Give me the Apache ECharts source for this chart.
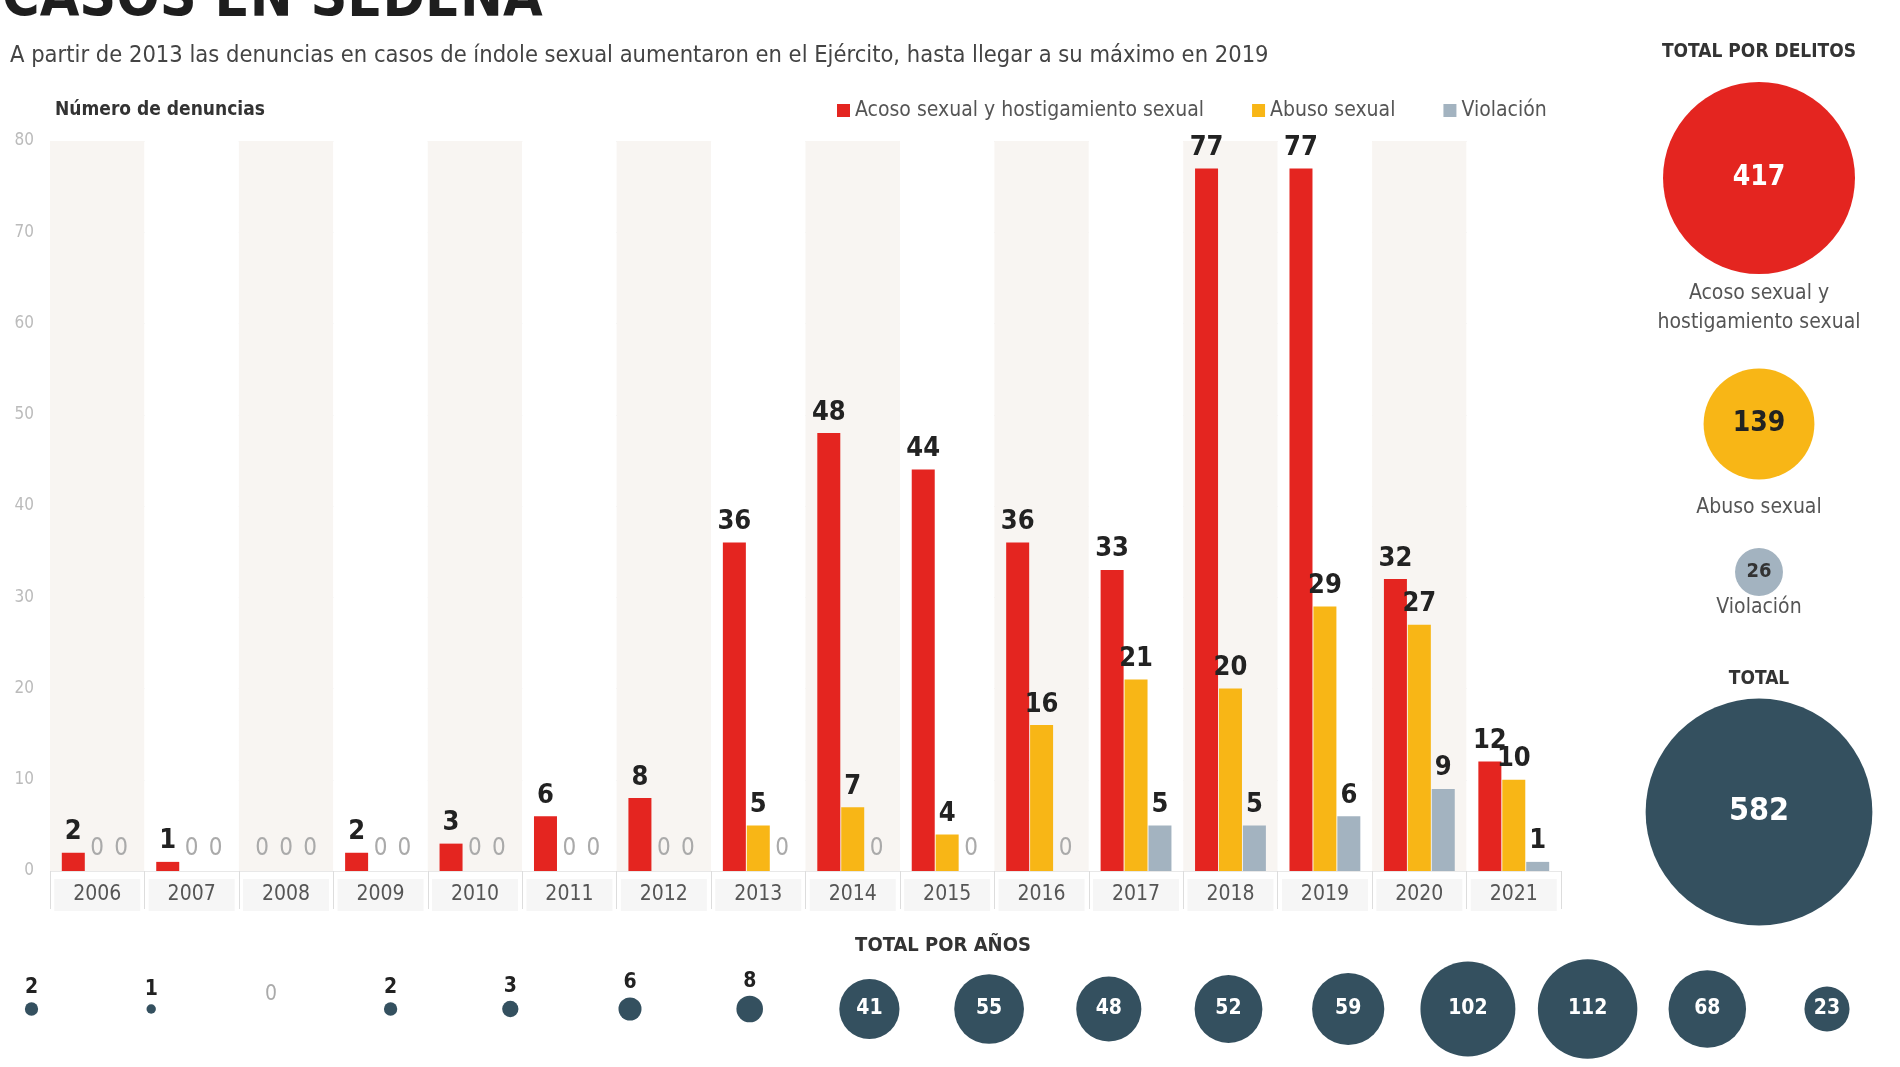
<!DOCTYPE html>
<html>
<head>
<meta charset="utf-8">
<script src="https://cdn.jsdelivr.net/npm/echarts@6/dist/echarts.min.js"></script>
<style>html,body{margin:0;padding:0;background:#fff;}#c{width:1900px;height:1067px;}</style>
</head>
<body>
<div id="c"></div>
<script>
const years = ['2006','2007','2008','2009','2010','2011','2012','2013','2014','2015','2016','2017','2018','2019','2020','2021'];
const acoso = [2,1,0,2,3,6,8,36,48,44,36,33,77,77,32,12];
const abuso = [0,0,0,0,0,0,0,5,7,4,16,21,20,29,27,10];
const violacion = [0,0,0,0,0,0,0,0,0,0,0,5,5,6,9,1];
const totalPorAnos = [2,1,0,2,3,6,8,41,55,48,52,59,102,112,68,23];
const delitosNombres = ['Acoso sexual y\nhostigamiento sexual','Abuso sexual','Violación'];
const totalPorDelitos = [417,139,26];
const totalGeneral = 582;

const FONT = '"Liberation Sans Narrow","DejaVu Sans Condensed","Roboto",sans-serif';
const RED = '#e42520', YEL = '#f8b616', GRY = '#a3b3c0', DARK = '#34505f';
const K = 9.4; // diameter per sqrt(value)

function mkBar(name, data, color) {
  return {
    name, type: 'bar', data: data.map(v => ({
      value: v,
      label: v === 0 ? { color: '#aaa', fontWeight: 'normal', fontSize: 24, distance: 10 } : undefined
    })),
    barWidth: 23, barGap: '4%',
    itemStyle: { color },
    label: {
      show: true, position: 'top', distance: 7,
      fontFamily: FONT, fontSize: 27, fontWeight: 'bold', color: '#222',
      formatter: p => String(p.value)
    },
    silent: true
  };
}

const chart = echarts.init(document.getElementById('c'));
const pieCenters = [[1759,178],[1759,424],[1759,572]];
const pieColors = [RED, YEL, GRY];
const pieLabelColors = ['#fff', '#222', '#333'];
const pieFont = [28, 28, 20];

const series = [
  mkBar('Acoso sexual y hostigamiento sexual', acoso, RED),
  mkBar('Abuso sexual', abuso, YEL),
  mkBar('Violación', violacion, GRY),
  {
    type: 'scatter', xAxisIndex: 1, yAxisIndex: 1, silent: true,
    data: totalPorAnos.map((v, i) => {
      const big = v >= 10;
      return {
        value: [i, 0.5, v],
        label: {
          show: true,
          position: big ? 'inside' : 'top',
          distance: 4,
          color: big ? '#fff' : (v === 0 ? '#aaa' : '#222'),
          fontWeight: v === 0 ? 'normal' : 'bold',
          fontSize: 21,
          fontFamily: FONT,
          formatter: () => String(v)
        }
      };
    }),
    symbolSize: d => K * Math.sqrt(d[2]),
    itemStyle: { color: DARK, opacity: 1 }
  }
];
totalPorDelitos.forEach((v, i) => {
  series.push({
    type: 'pie', silent: true, center: pieCenters[i], radius: K * Math.sqrt(v) / 2,
    label: { show: true, position: 'center', formatter: '{c}', color: pieLabelColors[i], fontSize: pieFont[i], fontWeight: 'bold', fontFamily: FONT },
    labelLine: { show: false },
    itemStyle: { color: pieColors[i] },
    data: [{ value: v, name: delitosNombres[i] }]
  });
});
series.push({
  type: 'pie', silent: true, center: [1759, 812], radius: K * Math.sqrt(totalGeneral) / 2,
  label: { show: true, position: 'center', formatter: '{c}', color: '#fff', fontSize: 32, fontWeight: 'bold', fontFamily: FONT },
  labelLine: { show: false },
  itemStyle: { color: DARK },
  data: [{ value: totalGeneral, name: 'TOTAL' }]
});

const graphics = [
  { type: 'text', left: 2, top: -27, style: { text: 'CASOS EN SEDENA', font: 'bold 57px ' + FONT, fill: '#1e1e1e' } },
  { type: 'text', left: 10, top: 44, style: { text: 'A partir de 2013 las denuncias en casos de índole sexual aumentaron en el Ejército, hasta llegar a su máximo en 2019', font: '23.5px ' + FONT, fill: '#444' } },
  { type: 'text', left: 55, top: 101, style: { text: 'Número de denuncias', font: 'bold 19px ' + FONT, fill: '#333' } },
  { type: 'text', x: 1759, y: 52, style: { text: 'TOTAL POR DELITOS', font: 'bold 19px ' + FONT, fill: '#333', textAlign: 'center', textVerticalAlign: 'middle' } },
  { type: 'text', x: 1759, y: 308, style: { text: 'Acoso sexual y\nhostigamiento sexual', font: '21px ' + FONT, fill: '#555', textAlign: 'center', textVerticalAlign: 'middle', lineHeight: 29 } },
  { type: 'text', x: 1759, y: 508, style: { text: 'Abuso sexual', font: '21px ' + FONT, fill: '#555', textAlign: 'center', textVerticalAlign: 'middle' } },
  { type: 'text', x: 1759, y: 608, style: { text: 'Violación', font: '21px ' + FONT, fill: '#555', textAlign: 'center', textVerticalAlign: 'middle' } },
  { type: 'text', x: 1759, y: 679, style: { text: 'TOTAL', font: 'bold 19px ' + FONT, fill: '#333', textAlign: 'center', textVerticalAlign: 'middle' } },
  { type: 'text', x: 943, y: 946, style: { text: 'TOTAL POR AÑOS', font: 'bold 20px ' + FONT, fill: '#333', textAlign: 'center', textVerticalAlign: 'middle' } }
];

chart.setOption({
  animation: false,
  backgroundColor: '#fff',
  textStyle: { fontFamily: FONT },
  legend: {
    left: 832, top: 95, itemWidth: 13, itemHeight: 13, itemGap: 48, icon: 'rect',
    textStyle: { fontSize: 21, color: '#555', fontFamily: FONT },
    data: ['Acoso sexual y hostigamiento sexual', 'Abuso sexual', 'Violación']
  },
  grid: [
    { left: 50, right: 339, top: 141, bottom: 196 },
    { left: 31.5, right: 73, top: 959, height: 100 }
  ],
  xAxis: [
    {
      type: 'category', data: years, gridIndex: 0,
      axisLine: { show: false },
      axisTick: { show: true, length: 38, lineStyle: { color: '#ddd' } },
      axisLabel: { color: '#555', fontSize: 21, fontFamily: FONT, margin: 8, backgroundColor: '#f6f6f6', width: 86, height: 32, lineHeight: 32, align: 'center' },
      splitArea: { show: true, areaStyle: { color: ['#f8f5f2', '#ffffff'] } }
    },
    { type: 'value', gridIndex: 1, min: 0, max: 15, show: false }
  ],
  yAxis: [
    {
      type: 'value', gridIndex: 0, min: 0, max: 80, interval: 10,
      axisLine: { show: false }, axisTick: { show: false },
      axisLabel: { color: '#bbb', fontSize: 17, margin: 16, fontFamily: FONT },
      splitLine: { lineStyle: { color: '#e8e8e8' } }
    },
    { type: 'value', gridIndex: 1, min: 0, max: 1, show: false }
  ],
  graphic: graphics,
  series
});
</script>
</body>
</html>
